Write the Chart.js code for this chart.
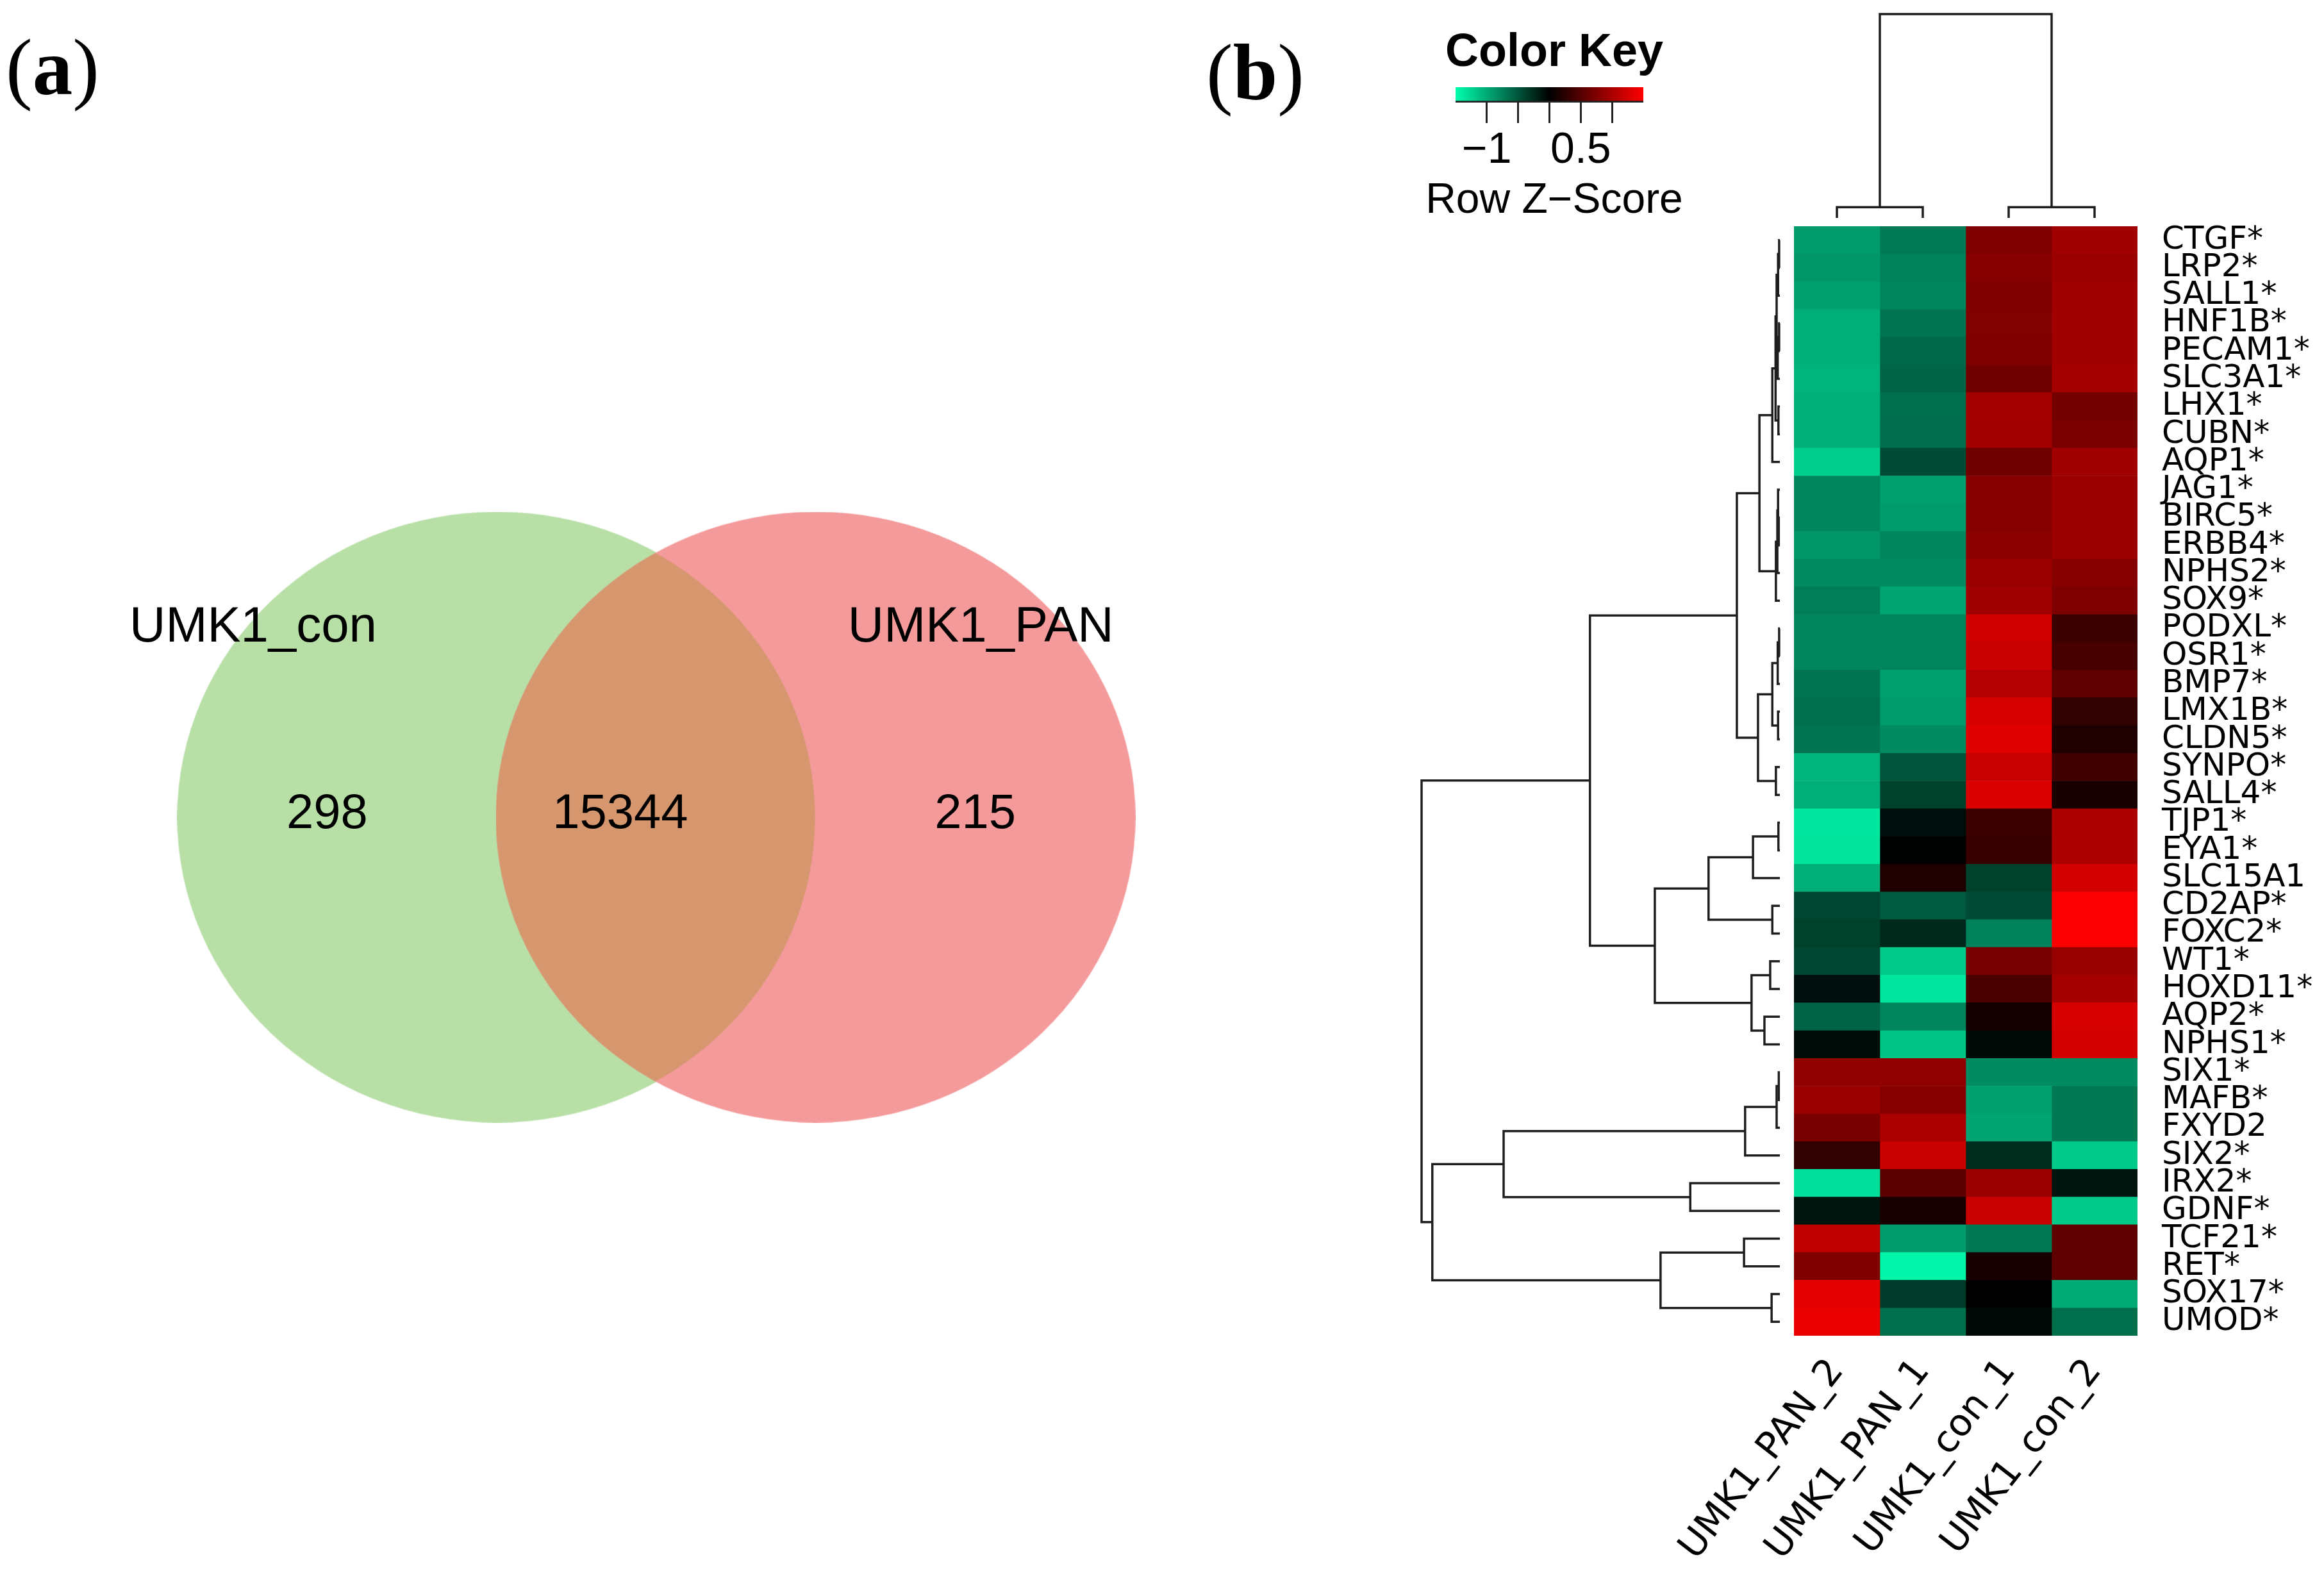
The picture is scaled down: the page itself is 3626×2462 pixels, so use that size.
<!DOCTYPE html>
<html>
<head>
<meta charset="utf-8">
<script src="https://cdn.jsdelivr.net/npm/chart.js@4.4.0/dist/chart.umd.min.js"></script>
<style>
html, body { margin: 0; padding: 0; background: #fff; overflow: hidden; }
#page { position: relative; width: 3626px; height: 2462px; overflow: hidden; background: #fff; }
canvas { position: absolute; }
.panel { position: absolute; font-family: "Liberation Serif", serif; font-size: 125px; line-height: 1; color: #000; white-space: nowrap; }
</style>
</head>
<body>
<div id="page">
  <div class="panel" style="left:9px; top:43px;">(<b>a</b>)</div>
  <div class="panel" style="left:1882px; top:51px;">(<b>b</b>)</div>
  <canvas id="vennChart" width="1800" height="2000" style="left:124px; top:275px;"></canvas>
  <canvas id="keyChart" width="480" height="313" style="left:2185px; top:40px;"></canvas>
  <canvas id="colTree" width="536" height="341" style="left:2799px; top:12px;"></canvas>
  <canvas id="rowTree" width="590" height="1731" style="left:2200px; top:353px;"></canvas>
  <canvas id="heatChart" width="1066" height="2149" style="left:2560px; top:313px;"></canvas>
</div>
<script>
Chart.defaults.font.family = '"DejaVu Sans", sans-serif';
Chart.defaults.color = '#000';

// ---- panel (a): venn counts
const vennSets = ['UMK1_con', 'UMK1_PAN'];
const vennCounts = [298, 15344, 215];   // con only, shared, PAN only

// ---- panel (b): heatmap
const samples = ['UMK1_PAN_2', 'UMK1_PAN_1', 'UMK1_con_1', 'UMK1_con_2'];
const genes = ['CTGF*', 'LRP2*', 'SALL1*', 'HNF1B*', 'PECAM1*', 'SLC3A1*', 'LHX1*', 'CUBN*', 'AQP1*', 'JAG1*',
  'BIRC5*', 'ERBB4*', 'NPHS2*', 'SOX9*', 'PODXL*', 'OSR1*', 'BMP7*', 'LMX1B*', 'CLDN5*', 'SYNPO*',
  'SALL4*', 'TJP1*', 'EYA1*', 'SLC15A1', 'CD2AP*', 'FOXC2*', 'WT1*', 'HOXD11*', 'AQP2*', 'NPHS1*',
  'SIX1*', 'MAFB*', 'FXYD2', 'SIX2*', 'IRX2*', 'GDNF*', 'TCF21*', 'RET*', 'SOX17*', 'UMOD*'];

// row z-scores, one array per sample (same order as genes)
const zPan2 = [-0.91, -0.88, -0.94, -1.03, -1.03, -1.06, -1.03, -1.03, -1.21, -0.79,
  -0.79, -0.88, -0.82, -0.74, -0.79, -0.79, -0.68, -0.65, -0.68, -1.06,
  -1.03, -1.35, -1.34, -1.03, -0.41, -0.38, -0.41, -0.09, -0.59, -0.07,
  0.85, 0.91, 0.71, 0.29, -1.32, -0.12, 1.12, 0.74, 1.34, 1.38];
const zPan1 = [-0.72, -0.76, -0.79, -0.68, -0.62, -0.59, -0.65, -0.64, -0.44, -0.94,
  -0.91, -0.79, -0.82, -0.97, -0.79, -0.78, -0.94, -0.91, -0.82, -0.50,
  -0.38, -0.09, -0.01, 0.18, -0.53, -0.24, -1.18, -1.35, -0.79, -1.15,
  0.85, 0.79, 1.00, 1.18, 0.53, 0.15, -0.91, -1.44, -0.35, -0.65];
const zCon1 = [0.74, 0.79, 0.74, 0.76, 0.75, 0.66, 0.97, 0.95, 0.66, 0.79,
  0.79, 0.82, 0.91, 0.94, 1.21, 1.18, 1.06, 1.26, 1.32, 1.18,
  1.29, 0.35, 0.32, -0.38, -0.44, -0.76, 0.71, 0.44, 0.12, -0.06,
  -0.82, -0.94, -0.97, -0.26, 0.91, 1.18, -0.71, 0.15, 0.00, -0.05];
const zCon2 = [0.94, 0.91, 0.94, 0.94, 0.94, 0.97, 0.69, 0.72, 0.94, 0.91,
  0.91, 0.91, 0.79, 0.74, 0.35, 0.41, 0.56, 0.29, 0.18, 0.38,
  0.15, 1.00, 1.00, 1.24, 1.47, 1.47, 0.88, 0.97, 1.26, 1.24,
  -0.82, -0.71, -0.71, -1.18, -0.12, -1.18, 0.56, 0.56, -1.00, -0.65];

// colour key
const keyTicks = [-1, -0.5, 0, 0.5, 1];
const keyLabelled = [-1, 0.5];

// dendrograms, hclust style: negative = leaf (-1 is first), positive = earlier merge (1-based)
const rowMerges = [
  [-1, -2, 0.02], [1, -3, 0.05], [-4, -5, 0.02], [3, -6, 0.06], [2, 4, 0.09],
  [-7, -8, 0.04], [5, 6, 0.12], [7, -9, 0.21],
  [-11, -12, 0.03], [-10, 9, 0.05], [10, -13, 0.07], [11, -14, 0.11],
  [8, 12, 0.57],
  [-15, -16, 0.02], [14, -17, 0.06], [-18, -19, 0.05], [15, 16, 0.21],
  [-20, -21, 0.11], [17, 18, 0.61], [13, 19, 1.20],
  [-22, -23, 0.04], [21, -24, 0.75], [-25, -26, 0.21], [22, 23, 1.99],
  [-27, -28, 0.27], [-29, -30, 0.43], [25, 26, 0.79], [24, 27, 3.49],
  [20, 28, 5.30],
  [-31, -32, 0.03], [30, -33, 0.09], [31, -34, 0.97], [-35, -36, 2.50], [32, 33, 7.71],
  [-37, -38, 1.00], [-39, -40, 0.23], [35, 36, 3.33], [34, 37, 9.70],
  [29, 38, 10.0]
];
const colMerges = [[-1, -2, 0.53], [-3, -4, 0.53], [1, 2, 10.0]];

const lowRGB = [0, 255, 175];
const highRGB = [255, 0, 0];
const treeColor = '#1e1e1e';

function zColor(z) {
  const t = Math.max(-1, Math.min(1, z / 1.5));
  const c = t < 0 ? lowRGB : highRGB;
  const k = Math.abs(t);
  return 'rgb(' + Math.round(c[0] * k) + ',' + Math.round(c[1] * k) + ',' + Math.round(c[2] * k) + ')';
}

function treeSegments(merges) {
  const pos = [], hgt = [];
  const where = id => id < 0 ? [-id - 1, 0] : [pos[id - 1], hgt[id - 1]];
  return merges.map(([a, b, h]) => {
    const [pa, ha] = where(a);
    const [pb, hb] = where(b);
    pos.push((pa + pb) / 2);
    hgt.push(h);
    return [[pa, ha], [pa, h], [pb, h], [pb, hb]];
  });
}

const quiet = { legend: { display: false }, tooltip: { enabled: false } };

function treeChart(id, merges, toPoint, scales, padding) {
  new Chart(id, {
    type: 'scatter',
    data: {
      datasets: treeSegments(merges).map(s => ({
        data: s.map(toPoint), showLine: true, borderColor: treeColor, borderWidth: 3.5,
        pointRadius: 0, tension: 0, clip: false
      }))
    },
    options: { responsive: false, animation: false, events: [], layout: { padding: padding }, plugins: quiet, scales: scales }
  });
}

// ---- venn
const vennPx = 500;                      // pixels per x/y unit of the venn chart
const vennGeom = { cx: [-0.5, 0.5], rx: 0.998, ry: 0.953 };
const vennFill = ['rgb(183,223,166)', 'rgb(244,154,155)'];
const vennOverlap = 'rgb(214,151,111)';

function ellipseImage(i) {
  const c = document.createElement('canvas');
  const w = Math.round(2 * vennGeom.rx * vennPx), h = Math.round(2 * vennGeom.ry * vennPx);
  c.width = w; c.height = h;
  const g = c.getContext('2d');
  const shape = dx => { g.beginPath(); g.ellipse(w / 2 + dx, h / 2, w / 2, h / 2, 0, 0, Math.PI * 2); };
  g.fillStyle = vennFill[i];
  shape(0); g.fill();
  if (i === 1) {
    // shade the part shared with the other set
    g.save();
    shape(0); g.clip();
    g.fillStyle = vennOverlap;
    shape((vennGeom.cx[0] - vennGeom.cx[1]) * vennPx); g.fill();
    g.restore();
  }
  return c;
}

const vennText = {
  id: 'vennText',
  afterDatasetsDraw(chart) {
    const { ctx } = chart;
    const x = chart.scales.x, y = chart.scales.y;
    const setX = [-1.265, 1.018], countX = [-1.033, -0.113, 1.001];
    ctx.save();
    ctx.fillStyle = '#000';
    ctx.textAlign = 'center';
    ctx.textBaseline = 'alphabetic';
    ctx.font = '78px "Liberation Sans"';
    vennSets.forEach((s, i) => ctx.fillText(s, x.getPixelForValue(setX[i]), y.getPixelForValue(0.551)));
    ctx.font = '76px "Liberation Sans"';
    vennCounts.forEach((n, i) => ctx.fillText(String(n), x.getPixelForValue(countX[i]), y.getPixelForValue(-0.035)));
    ctx.restore();
  }
};

new Chart('vennChart', {
  type: 'scatter',
  data: {
    // PAN set listed first so it is drawn on top
    datasets: [1, 0].map(i => ({
      label: vennSets[i],
      data: [{ x: vennGeom.cx[i], y: 0 }],
      pointStyle: ellipseImage(i),
      clip: false
    }))
  },
  options: {
    responsive: false, animation: false, events: [],
    plugins: quiet,
    scales: { x: { min: -1.8, max: 1.8, display: false }, y: { min: -2, max: 2, display: false } }
  },
  plugins: [vennText]
});

// ---- colour key (axis is wider than the bar so titles are not squeezed)
new Chart('keyChart', {
  type: 'bar',
  data: {
    labels: ['key'],
    datasets: [{
      data: [[-1.5, 1.5]], barPercentage: 1, categoryPercentage: 1,
      borderWidth: { top: 0, left: 0, right: 0, bottom: 3 }, borderColor: '#222', borderSkipped: false,
      backgroundColor: c => {
        const a = c.chart.chartArea;
        if (!a) return '#000';
        const sx = c.chart.scales.x;
        const g = c.chart.ctx.createLinearGradient(sx.getPixelForValue(-1.5), 0, sx.getPixelForValue(1.5), 0);
        g.addColorStop(0, zColor(-1.5));
        g.addColorStop(0.5, zColor(0));
        g.addColorStop(1, zColor(1.5));
        return g;
      }
    }]
  },
  options: {
    indexAxis: 'y', responsive: false, animation: false, events: [],
    layout: { padding: 0 },
    plugins: {
      legend: { display: false }, tooltip: { enabled: false },
      title: { display: true, text: 'Color Key', color: '#000',
        font: { family: '"Liberation Sans"', size: 72, weight: 'bold' }, padding: { top: 0, bottom: 9.6 } }
    },
    scales: {
      y: { display: false },
      x: {
        min: -2.3805, max: 2.5341, position: 'bottom',
        afterBuildTicks: s => { s.ticks = keyTicks.map(v => ({ value: v })); },
        grid: { drawOnChartArea: false, drawTicks: true, tickLength: 32, tickWidth: 3, tickColor: '#222' },
        border: { display: false },
        ticks: {
          autoSkip: false, padding: 2, color: '#000', maxRotation: 0,
          font: { family: '"Liberation Sans"', size: 68 },
          callback: v => keyLabelled.includes(v) ? (v < 0 ? '\u2212' + Math.abs(v) : String(v)) : ''
        },
        title: { display: true, text: 'Row Z\u2212Score', color: '#000', padding: 0,
          font: { family: '"Liberation Sans"', size: 66 } },
        afterFit: s => { s.height = 193; s.paddingLeft = 0; s.paddingRight = 0; }
      }
    }
  }
});

// ---- dendrograms
treeChart('rowTree', rowMerges, p => ({ x: p[1], y: p[0] }), {
  x: { min: 0, max: 10, reverse: true, display: false },
  y: { min: -0.5, max: 39.5, reverse: true, display: false }
}, { left: 18, right: 13, top: 0, bottom: 0 });

treeChart('colTree', colMerges, p => ({ x: p[0], y: p[1] }), {
  x: { min: -0.5, max: 3.5, display: false },
  y: { min: 0, max: 10, display: false }
}, { left: 0, right: 0, top: 10, bottom: 13 });

// ---- heatmap
const heatCols = [zPan2, zPan1, zCon1, zCon2];
new Chart('heatChart', {
  type: 'bar',
  data: {
    labels: genes,
    datasets: heatCols.map((z, j) => ({
      label: samples[j],
      data: z.map(() => 1),
      backgroundColor: z.map(zColor),
      borderWidth: 0, barPercentage: 1, categoryPercentage: 1
    }))
  },
  options: {
    indexAxis: 'y', responsive: false, animation: false, events: [],
    layout: { padding: { left: 239, top: 40, right: 0, bottom: 0 } },
    plugins: quiet,
    scales: {
      x: { stacked: true, min: 0, max: 4, display: false },
      y: {
        stacked: true, position: 'right',
        grid: { display: false }, border: { display: false },
        ticks: { autoSkip: false, padding: 30, color: '#000', font: { size: 50 } },
        afterFit: s => { s.width = 291; s.paddingTop = 0; s.paddingBottom = 0; }
      },
      xl: {
        type: 'category', axis: 'x', position: 'bottom', labels: samples, offset: true,
        grid: { display: false }, border: { display: false },
        ticks: { autoSkip: false, minRotation: 52, maxRotation: 52, padding: 16, color: '#000', font: { size: 58 } },
        afterFit: s => { s.height = 378; s.paddingLeft = 0; s.paddingRight = 0; }
      }
    }
  }
});
</script>
</body>
</html>
